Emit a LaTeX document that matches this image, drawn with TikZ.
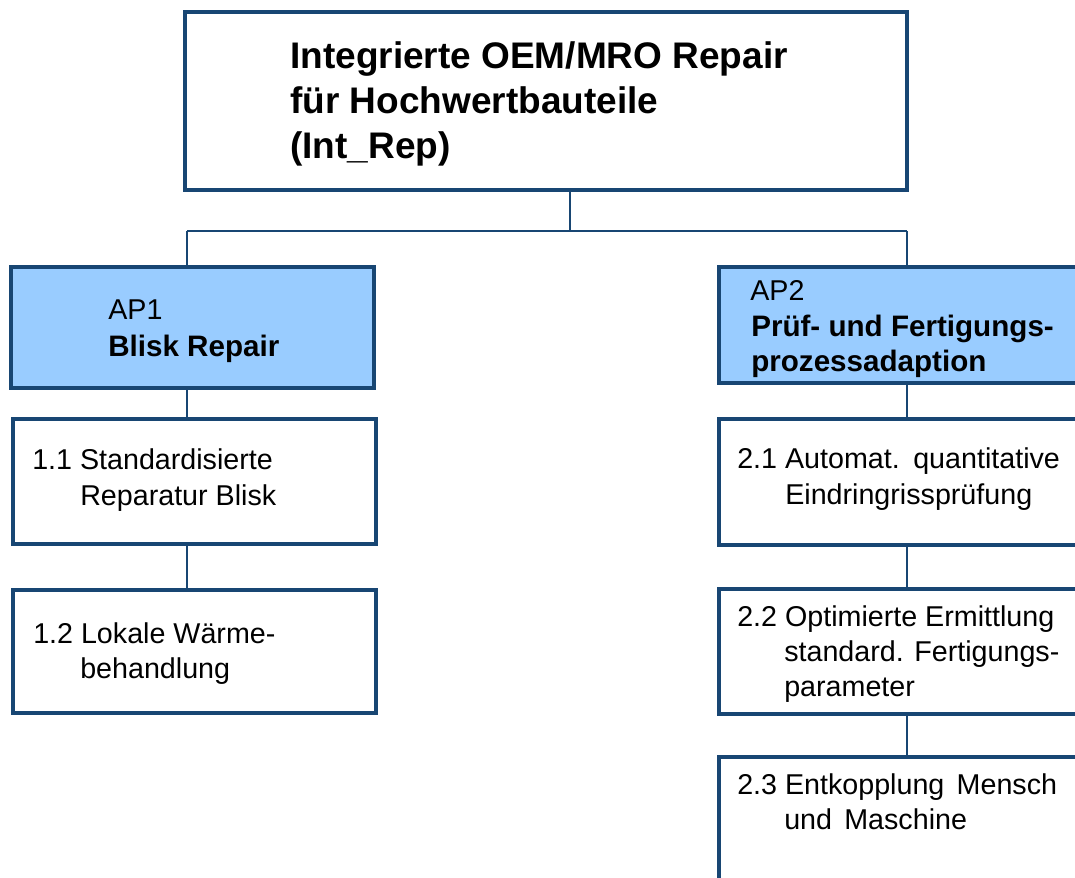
\documentclass[tikz,border=0pt]{standalone}
\usepackage{fontspec}
\setmainfont{Liberation Sans}
\definecolor{edge}{RGB}{24,70,115}
\definecolor{apfill}{RGB}{153,204,255}
\tikzset{
  box/.style={draw=edge, line width=2.3pt, fill=white, inner sep=0pt},
  apbox/.style={box, fill=apfill},
  conn/.style={draw=edge, line width=1.6pt},
  txt/.style={inner sep=0pt, anchor=base west, font=\fontsize{21.5pt}{26pt}\selectfont},
  btxt/.style={txt, font=\fontsize{22.2pt}{26pt}\selectfont\bfseries},
  ttxt/.style={inner sep=0pt, anchor=base west, font=\fontsize{27.75pt}{33.75pt}\selectfont\bfseries},
}
\begin{document}
\begin{tikzpicture}[x=0.75pt,y=-0.75pt]
\clip (0,0) rectangle (1075,878);
\fill[white] (0,0) rectangle (1075,878);
% boxes (pixel coordinates, corners)
\node[box, minimum width={722*0.75pt}, minimum height={178*0.75pt}] (top) at (546,101) {};
\node[apbox, minimum width={363*0.75pt}, minimum height={121*0.75pt}] (ap1) at (192.5,327.5) {};
\node[box, minimum width={363*0.75pt}, minimum height={125*0.75pt}] (b11) at (194.5,481.5) {};
\node[box, minimum width={363*0.75pt}, minimum height={123*0.75pt}] (b12) at (194.5,651.5) {};
\node[apbox, minimum width={371*0.75pt}, minimum height={116*0.75pt}] (ap2) at (904.5,325) {};
\node[box, minimum width={371*0.75pt}, minimum height={126*0.75pt}] (b21) at (904.5,482) {};
\node[box, minimum width={371*0.75pt}, minimum height={125*0.75pt}] (b22) at (904.5,651.5) {};
\node[box, minimum width={371*0.75pt}, minimum height={143*0.75pt}] (b23) at (904.5,828.5) {};
% connectors
\coordinate (busM) at (570,231);
\coordinate (busL) at (187,231);
\coordinate (busR) at (907,231);
\draw[conn] (busM |- top.south) -- (busM);
\draw[conn] (busL) -- (busR);
\draw[conn] (busL) -- (busL |- ap1.north);
\draw[conn] (busR) -- (busR |- ap2.north);
\draw[conn] (busL |- ap1.south) -- (busL |- b11.north);
\draw[conn] (busL |- b11.south) -- (busL |- b12.north);
\draw[conn] (busR |- ap2.south) -- (busR |- b21.north);
\draw[conn] (busR |- b21.south) -- (busR |- b22.north);
\draw[conn] (busR |- b22.south) -- (busR |- b23.north);
% title
\node[ttxt] (t1) at (290,68) {Integrierte OEM/MRO Repair};
\node[ttxt] (t2) at (290,113) {für Hochwertbauteile};
\node[ttxt] (t3) at (290,158) {(Int\_Rep)};
% AP1
\node[txt] (a1a) at (108,319) {AP1};
\node[btxt] (a1b) at (108,356) {Blisk Repair};
\node[txt] (s11a) at (32,469) {1.1 Standardisierte};
\node[txt] (s11b) at (80,505) {Reparatur Blisk};
\node[txt] (s12a) at (33,643) {1.2 Lokale Wärme-};
\node[txt] (s12b) at (80,678) {behandlung};
% AP2
\node[txt] (a2a) at (750,300) {AP2};
\node[btxt] (a2b) at (751,336) {Prüf- und Fertigungs-};
\node[btxt] (a2c) at (751,371) {prozessadaption};
\node[txt] (s21a) at (737,468) {2.1 Automat.\hspace{0.1em} quantitative};
\node[txt] (s21b) at (785,504) {Eindringrissprüfung};
\node[txt] (s22a) at (737,626) {2.2 Optimierte Ermittlung};
\node[txt] (s22b) at (784,661) {standard. Fertigungs-};
\node[txt] (s22c) at (784,696) {parameter};
\node[txt] (s23a) at (737,794) {2.3 Entkopplung\hspace{0.15em} Mensch};
\node[txt] (s23b) at (784,829) {und\hspace{0.15em} Maschine};
\end{tikzpicture}
\end{document}
